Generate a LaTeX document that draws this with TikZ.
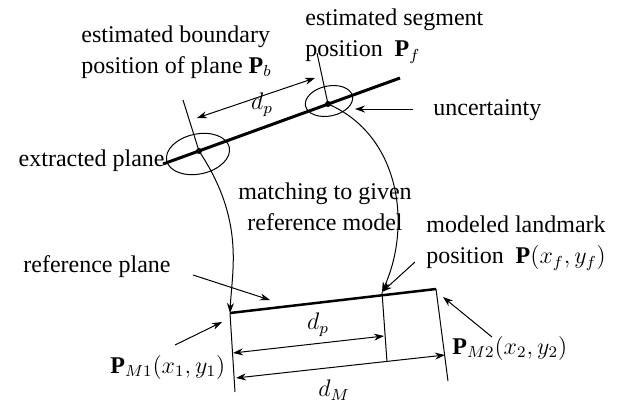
\documentclass[tikz,border=0pt]{standalone}
\usepackage{fontspec}
\setmainfont{Liberation Serif}
\usetikzlibrary{arrows.meta}

\begin{document}
\begin{tikzpicture}[x=0.5pt, y=-0.5pt,
    lbl/.style={inner sep=0pt, font=\fontsize{12}{15.5}\selectfont, align=left},
    plane/.style={line width=1.5pt},
    thinln/.style={line width=0.5pt},
    pointer/.style={thinln, -{Stealth[length=5pt, width=3.5pt]}},
    dimen/.style={thinln, {Stealth[length=5pt, width=3.5pt]}-{Stealth[length=5pt, width=3.5pt]}},
    dot/.style={circle, fill, inner sep=0pt, minimum size=3pt}]
  \useasboundingbox (0,0) rectangle (628,404);

  % extracted plane with uncertainty ellipses
  \coordinate (e1) at (163,164);
  \coordinate (e2) at (400,78);
  \draw[plane] (e1) -- (e2);
  \node[dot] (bnd) at (199,151) {};
  \node[dot] (seg) at (328,104) {};
  \draw[thinln] (198,154) ellipse [x radius=32, y radius=20, rotate=12];
  \draw[thinln] (329,101) ellipse [x radius=24, y radius=15, rotate=12];
  \coordinate (bndTop) at (183,100);
  \coordinate (segTop) at (317,53);
  \draw[dimen] (197,118) -- (315,78) coordinate[midway] (dpUp);
  \node[lbl] (dpA) at (262,105) {$d_p$};

  % reference plane (model)
  \coordinate (m1) at (230,313);
  \coordinate (m2) at (436,289);
  \coordinate (pf) at (382,292);
  \coordinate (m1Low) at (235,392);
  \coordinate (m2Low) at (448,381);
  \coordinate (pfLow) at (387,362);
  \draw[line width=1.25pt] (m1) -- (m2);
  \draw[thinln] (m1) -- (m1Low);
  \draw[thinln] (m2) -- (m2Low);
  \draw[thinln] (pf) -- (pfLow);
  \draw[dimen] (233,353) -- (384,336);
  \node[lbl] (dpB) at (318,325) {$d_p$};
  \draw[dimen] (236,378) -- (445,355);
  \node[lbl] (dM) at (334,390) {$d_M$};

  % matching curves
  \draw[pointer] (bndTop) -- (bnd.center) .. controls (245,220) and (232,270) .. (m1);
  \draw[pointer] (segTop) -- (seg.center) .. controls (400,135) and (412,225) .. (pf);

  % labels
  \node[lbl, anchor=west] (bndLbl) at (81,52) {estimated boundary\\position of plane $\mathbf{P}_b$};
  \node[lbl, anchor=west] (segLbl) at (305,36) {estimated segment\\position \ $\mathbf{P}_f$};
  \node[lbl, anchor=east] (extLbl) at (165,161) {extracted plane};
  \node[lbl, anchor=west] (uncLbl) at (433,110) {uncertainty};
  \node[lbl, align=center] (matchLbl) at (325,207) {matching to given\\reference model};
  \node[lbl, anchor=west] (lmkLbl) at (426,243) {modeled landmark\\position \ $\mathbf{P}(x_f, y_f)$};
  \node[lbl, anchor=west] (refLbl) at (23,267) {reference plane};
  \node[lbl, anchor=west] (pm1Lbl) at (110,367) {$\mathbf{P}_{M1}(x_1, y_1)$};
  \node[lbl, anchor=west] (pm2Lbl) at (452,348) {$\mathbf{P}_{M2}(x_2, y_2)$};

  % pointers from labels
  \coordinate (uncTail) at (413,109);
  \coordinate (refTail) at (193,275);
  \coordinate (pm1Tail) at (175,345);
  \coordinate (pm2Tail) at (492,337);
  \coordinate (lmkTail) at (415,262);
  \draw[pointer] (uncTail) -- (355,109);
  \draw[pointer] (refTail) -- (270,300);
  \draw[pointer] (pm1Tail) -- (222,322);
  \draw[pointer] (pm2Tail) -- (443,297);
  \draw[pointer] (lmkTail) -- (pf);
\end{tikzpicture}
\end{document}
